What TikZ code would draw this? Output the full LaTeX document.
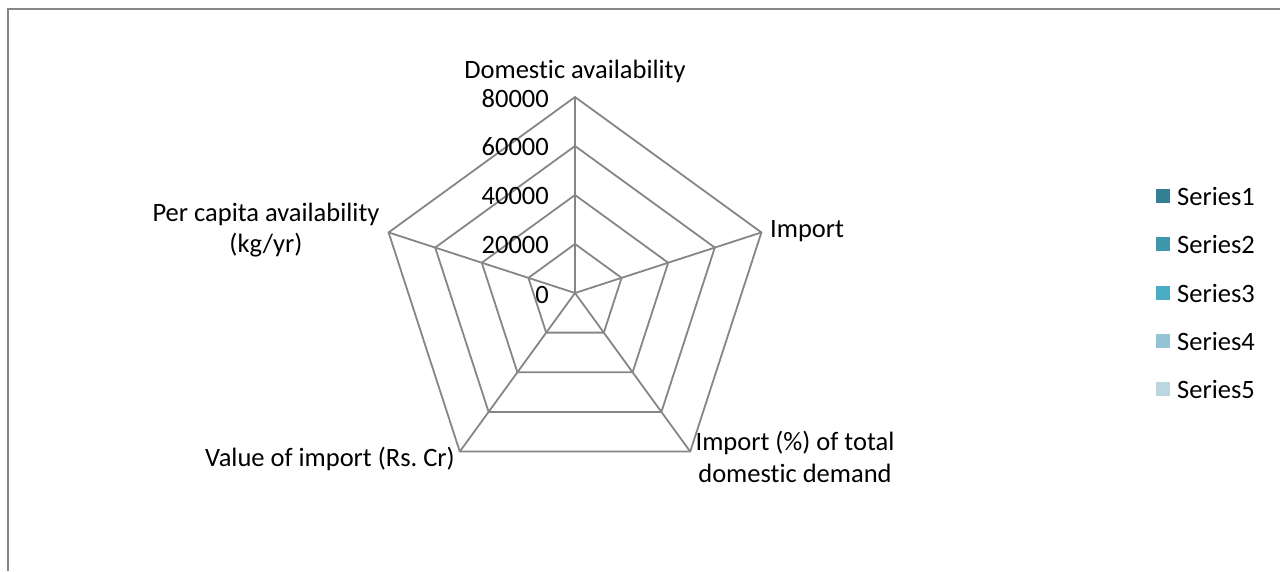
\documentclass[tikz,border=0pt]{standalone}
\usepackage{fontspec}
\setmainfont{Carlito}[Ligatures=NoCommon]
\begin{document}
\begin{tikzpicture}[x=1pt,y=-1pt,
  grid/.style={draw=frame, line width=1.8pt, line join=miter},
  lbl/.style={font=\fontsize{26.5}{31.5}\selectfont, inner sep=0pt, text=black},
  tick/.style={lbl, anchor=east},
  legsq/.style={inner sep=0pt, minimum size=14pt},
  legtxt/.style={lbl, anchor=west},
]
\definecolor{sA}{RGB}{53,127,149}
\definecolor{sB}{RGB}{63,151,174}
\definecolor{sC}{RGB}{75,172,198}
\definecolor{sD}{RGB}{147,195,213}
\definecolor{sE}{RGB}{186,214,225}
\definecolor{frame}{RGB}{134,134,134}
\useasboundingbox[fill=white] (0,0) rectangle (1280,571);
% frame
\draw[frame, line width=2pt] (7.5,571) -- (7.5,8.5) -- (1280,8.5);
% radar
\coordinate (O) at (575,293);
\foreach \r in {49,98,147,196} {
  \draw[grid] ([shift={(-90:\r)}]O) -- ([shift={(-18:\r)}]O) -- ([shift={(54:\r)}]O) -- ([shift={(126:\r)}]O) -- ([shift={(-162:\r)}]O) -- cycle;
}
\foreach \a/\n in {-90/vA,-18/vB,54/vC,126/vD,-162/vE} {
  \coordinate (\n) at ([shift={(\a:196)}]O);
  \draw[grid] (O) -- (\n);
}
% tick labels
\node[tick] (t0) at (549,295) {0};
\node[tick] (t1) at (549,245) {20000};
\node[tick] (t2) at (549,196) {40000};
\node[tick] (t3) at (549,147) {60000};
\node[tick] (t4) at (549,99) {80000};
% axis labels
\node[lbl] (lA) at (575,71) {Domestic availability};
\node[lbl, anchor=west] (lB) at (770,231) {Import};
\node[lbl, align=center] (lC) at (795,457) {Import (\%) of total\\domestic demand};
\node[lbl, anchor=east] (lD) at (455,459) {Value of import (Rs.~Cr)};
\node[lbl, align=center] (lE) at (266,230) {Per capita availability\\(kg/yr)};
% legend
\foreach \y/\c/\t [count=\i] in {196/sA/Series1,244/sB/Series2,293/sC/Series3,341/sD/Series4,389/sE/Series5} {
  \node[legsq, fill=\c] (sq\i) at (1163,\y) {};
  \node[legtxt] (lg\i) at (1177,\y) {\t};
}
\end{tikzpicture}
\end{document}
